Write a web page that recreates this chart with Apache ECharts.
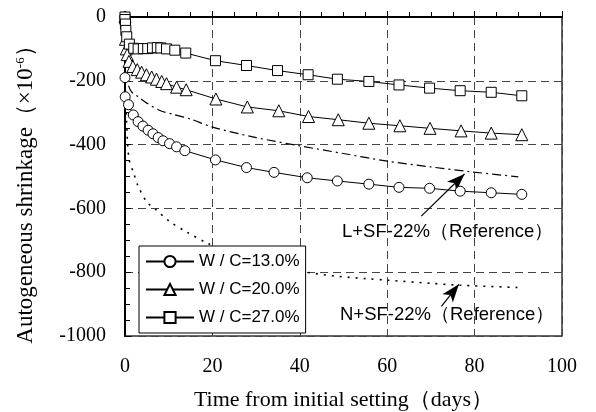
<!DOCTYPE html>
<html>
<head>
<meta charset="utf-8">
<script src="https://cdn.jsdelivr.net/npm/echarts@6/dist/echarts.min.js"></script>
<style>
  html, body { margin: 0; padding: 0; background: #fff; }
  #chart { width: 596px; height: 412px; }
</style>
</head>
<body>
<div id="chart"></div>
<script>
// Autogeneous shrinkage vs. time from initial setting (days)
const wc13 = [[0,0],[0,-190],[0.05,-250],[0.8,-275],[1.9,-307],[3,-328],[4.1,-342],[5.3,-355],[6.4,-366],[7.6,-378],[8.7,-388],[10.2,-397],[11.8,-407],[13.7,-419],[20.7,-448],[27.8,-472],[34.1,-487],[41.7,-504],[48.6,-514],[55.8,-524],[62.7,-534],[69.7,-537],[76.7,-546],[83.8,-551],[90.8,-556]];
const wc20 = [[0,0],[0.1,-70],[0.3,-100],[0.5,-118],[0.9,-139],[1.8,-155],[2.8,-165],[3.8,-173],[4.9,-181],[6.1,-188],[7.2,-195],[8.4,-202],[9.5,-209],[11.8,-220],[14,-228],[20.8,-257],[28,-282],[35.2,-294],[42,-312],[48.8,-322],[55.8,-333],[62.9,-341],[69.8,-349],[76.9,-357],[83.8,-364],[90.8,-369]];
const wc27 = [[0,0],[0,-8],[0.1,-22],[0.2,-42],[0.4,-62],[1,-85],[2,-98],[3,-100],[4.2,-99],[5.2,-99],[6.3,-97],[7.4,-96],[8.2,-97],[9.5,-100],[11.4,-104],[13.9,-113],[20.7,-137],[27.8,-152],[34.9,-168],[41.9,-181],[48.6,-195],[55.8,-202],[62.7,-213],[69.7,-223],[76.7,-231],[83.8,-236],[90.8,-247]];
// reference mixes
const refL = [[0.8,-215],[1.5,-235],[3,-250],[5,-270],[8,-293],[11,-305],[15,-320],[20,-345],[30,-378],[40,-404],[50,-428],[60,-452],[70,-470],[79,-485],[90,-501]];
const refN = [[0.3,-300],[0.6,-400],[1,-450],[2,-490],[3,-530],[5,-580],[7,-603],[10,-639],[14,-673],[19,-710],[25,-745],[30,-770],[35,-785],[41,-799],[48,-812],[55,-820],[60,-825],[70,-835],[77,-841],[90,-848]];
const arrowL = [[67.8,-624],[77.7,-492]];
const arrowN = [[72.4,-907],[76.4,-838]];
const names = ['W / C=13.0%','W / C=20.0%','W / C=27.0%'];
const labelL = 'L+SF-22%（Reference）';
const labelN = 'N+SF-22%（Reference）';
const yTitle = 'Autogeneous shrinkage（×10{sup|-6}）';
const xTitle = 'Time from initial setting（days）';

const serif = 'Liberation Serif, Times New Roman, serif';
const sans = 'Liberation Sans, Arial, sans-serif';

const chart = echarts.init(document.getElementById('chart'));

function mainSeries(name, data, symbol, size) {
  return {
    name, type: 'line', data, symbol, symbolSize: size, showAllSymbol: true,
    lineStyle: { color: '#000', width: 1 },
    itemStyle: { color: '#fff', borderColor: '#000', borderWidth: 1 },
    z: 5
  };
}
function arrow(pts) {
  return {
    silent: true, symbol: ['none', 'arrow'], symbolSize: [10, 18],
    label: { show: false },
    lineStyle: { color: '#000', width: 1.2, type: 'solid' },
    data: [[{ coord: pts[0] }, { coord: pts[1] }]]
  };
}

chart.setOption({
  animation: false,
  backgroundColor: '#fff',
  grid: {
    left: 125, right: 34, top: 17, bottom: 76, containLabel: false, outerBoundsMode: 'none',
    show: true, borderColor: '#333', borderWidth: 1.5
  },
  legend: {
    data: names, orient: 'vertical', left: 139, top: 246,
    itemWidth: 48, itemHeight: 14, itemGap: 11,
    padding: [7, 6, 7, 6],
    backgroundColor: '#fff', borderColor: '#000', borderWidth: 1,
    textStyle: { fontFamily: sans, fontSize: 17, color: '#000' }
  },
  xAxis: {
    type: 'value', min: 0, max: 100, interval: 20,
    name: xTitle, nameLocation: 'middle', nameGap: 53,
    nameTextStyle: { fontFamily: serif, fontSize: 22, color: '#000' },
    axisLine: { lineStyle: { color: '#000', width: 2 } },
    axisTick: { inside: true, length: 6, lineStyle: { color: '#000' } },
    minorTick: { show: true, splitNumber: 4, length: 5, lineStyle: { color: '#000' } },
    axisLabel: { margin: 21, fontFamily: serif, fontSize: 20, color: '#000' },
    splitLine: { show: true, lineStyle: { color: '#444', type: [8, 5], width: 1 } }
  },
  yAxis: {
    type: 'value', min: -1000, max: 0, interval: 200,
    axisLine: { lineStyle: { color: '#000', width: 2 } },
    axisTick: { inside: true, length: 6, lineStyle: { color: '#000' } },
    minorTick: { show: true, splitNumber: 4, length: 5, lineStyle: { color: '#000' } },
    axisLabel: { margin: 19, fontFamily: serif, fontSize: 20, color: '#000', formatter: v => String(v) },
    splitLine: { show: true, lineStyle: { color: '#444', type: [8, 5], width: 1 } }
  },
  series: [
    {
      name: 'L ref', type: 'line', data: refL, symbol: 'none', smooth: 0.3,
      lineStyle: { color: '#000', width: 1.2, type: [9, 4, 2, 4] }, z: 3,
      markLine: arrow(arrowL)
    },
    {
      name: 'N ref', type: 'line', data: refN, symbol: 'none', smooth: 0.3,
      lineStyle: { color: '#000', width: 1.6, type: [2, 6] }, z: 3,
      markLine: arrow(arrowN)
    },
    mainSeries(names[0], wc13, 'circle', 10),
    mainSeries(names[1], wc20, 'triangle', 12),
    mainSeries(names[2], wc27, 'rect', 10)
  ],
  graphic: [
    {
      type: 'text', x: 26, y: 189, rotation: Math.PI / 2,
      style: {
        text: yTitle, fontFamily: serif, fontSize: 23, fill: '#000', align: 'center', verticalAlign: 'middle',
        rich: { sup: { fontFamily: serif, fontSize: 13, fill: '#000', verticalAlign: 'top', padding: [0, 0, 10, 0] } }
      }
    },
    { type: 'text', left: 342, top: 222, style: { text: labelL, fontFamily: sans, fontSize: 18.5, fill: '#000' } },
    { type: 'text', left: 340, top: 305, style: { text: labelN, fontFamily: sans, fontSize: 18.5, fill: '#000' } }
  ]
});
</script>
</body>
</html>
